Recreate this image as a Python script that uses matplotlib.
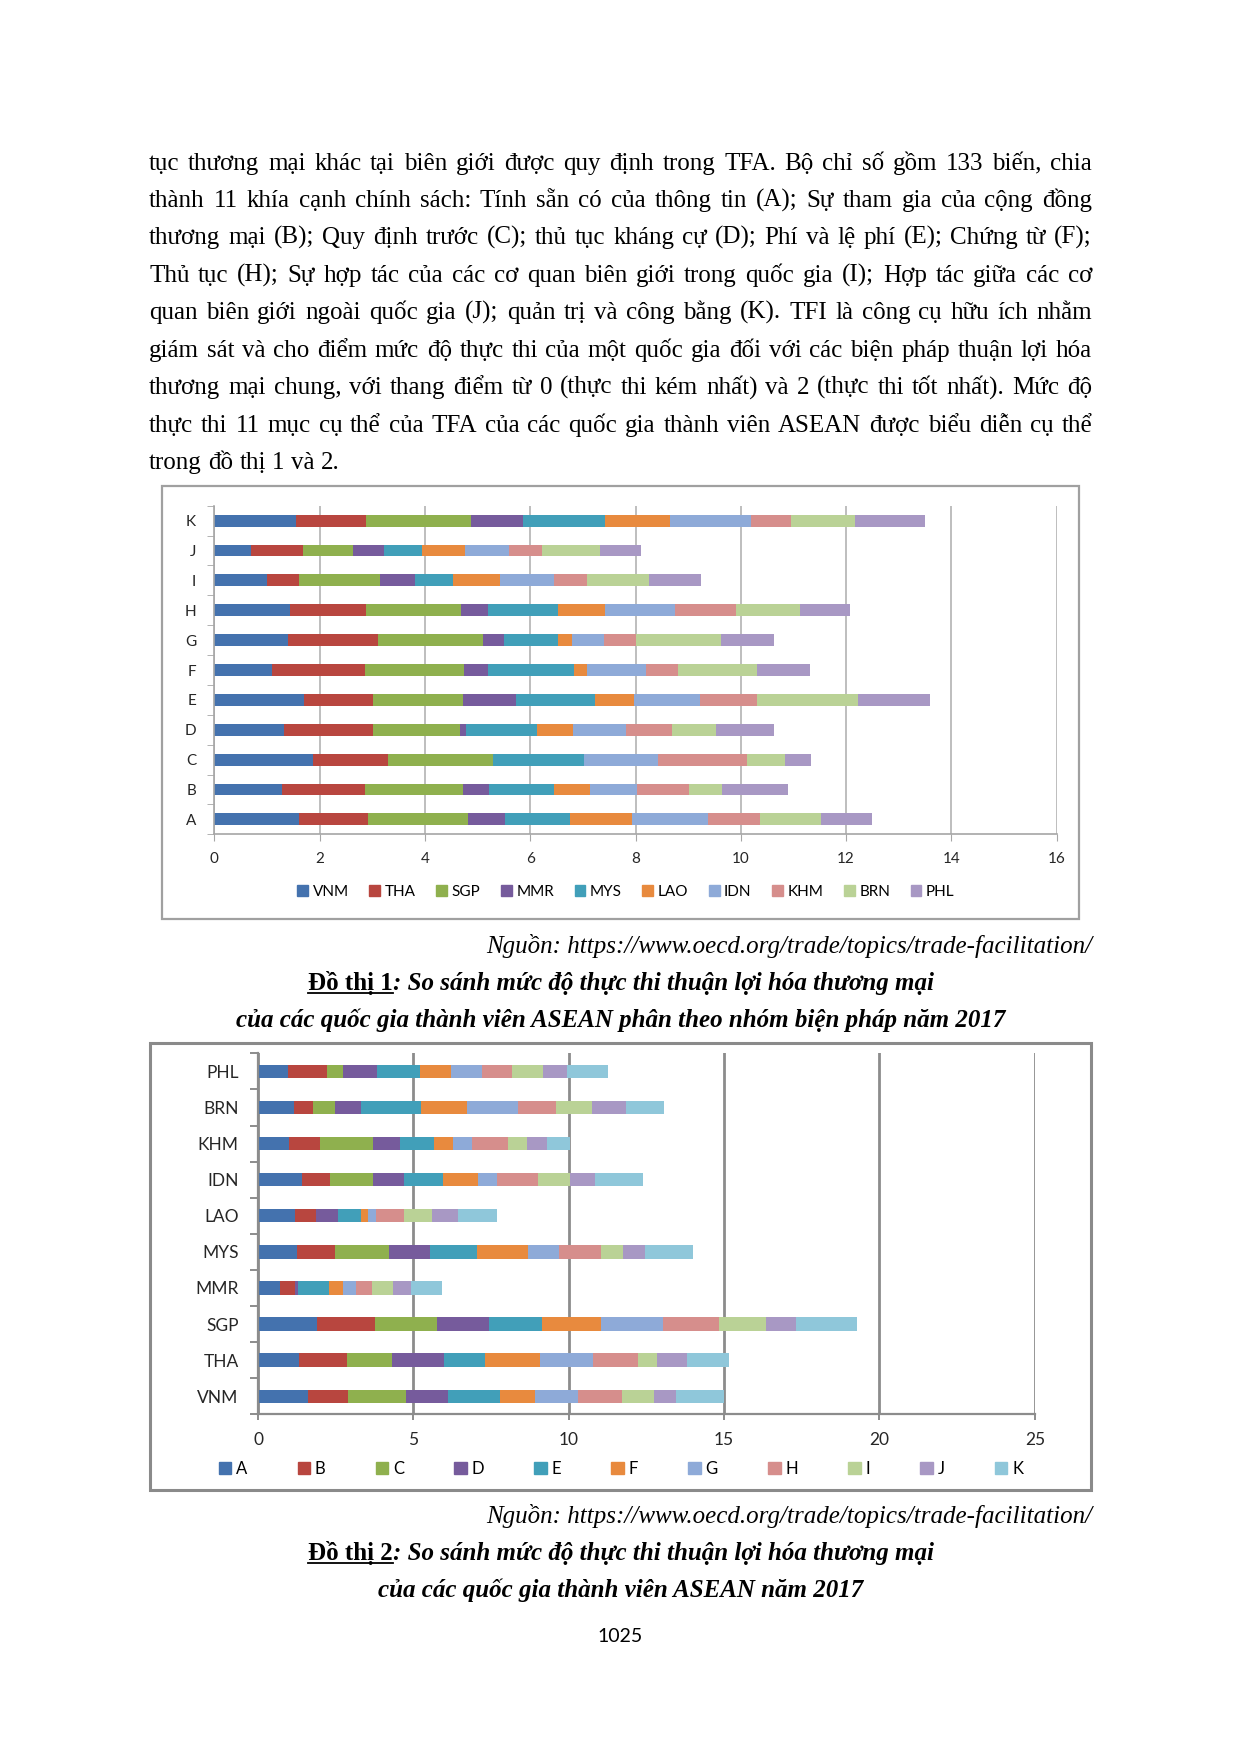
import matplotlib
matplotlib.use("Agg")
import matplotlib.pyplot as plt
from matplotlib.patches import Rectangle, Patch
from matplotlib.lines import Line2D

W, H = 1240, 1754
SERIF = "Liberation Serif"
SANS = "Lato"
BODY = 18

# TFI scores 2017, one list per country, measures A..K
measures = ["A", "B", "C", "D", "E", "F", "G", "H", "I", "J", "K"]
countries = ["VNM", "THA", "SGP", "MMR", "MYS", "LAO", "IDN", "KHM", "BRN", "PHL"]

vnm = [1.61, 1.29, 1.87, 1.33, 1.70, 1.10, 1.40, 1.43, 1.01, 0.70, 1.55]
tha = [1.31, 1.57, 1.43, 1.68, 1.31, 1.76, 1.71, 1.46, 0.60, 0.99, 1.33]
sgp = [1.90, 1.87, 2.00, 1.65, 1.72, 1.89, 2.00, 1.80, 1.53, 0.94, 1.99]
mmr = [0.70, 0.48, 0.00, 0.12, 1.00, 0.45, 0.40, 0.51, 0.67, 0.60, 1.00]
mys = [1.24, 1.25, 1.72, 1.34, 1.50, 1.63, 1.02, 1.33, 0.72, 0.71, 1.55]
lao = [1.18, 0.68, 0.00, 0.70, 0.75, 0.24, 0.26, 0.90, 0.90, 0.83, 1.24]
idn = [1.43, 0.88, 1.40, 1.00, 1.24, 1.12, 0.62, 1.32, 1.02, 0.82, 1.53]
khm = [1.00, 1.00, 1.70, 0.88, 1.08, 0.62, 0.60, 1.15, 0.62, 0.64, 0.76]
brn = [1.15, 0.62, 0.72, 0.83, 1.92, 1.50, 1.62, 1.22, 1.18, 1.09, 1.22]
phl = [0.98, 1.25, 0.50, 1.11, 1.37, 1.00, 1.00, 0.95, 1.00, 0.78, 1.33]
scores = [vnm, tha, sgp, mmr, mys, lao, idn, khm, brn, phl]

palette = ["#4472AE", "#B8463F", "#8FB04E", "#765B9C", "#419FB9", "#E88A3E",
           "#8EAAD8", "#D68E8C", "#BAD296", "#A898C4", "#8FC7DA"]

paragraph = [
    "tục thương mại khác tại biên giới được quy định trong TFA. Bộ chỉ số gồm 133 biến, chia",
    "thành 11 khía cạnh chính sách: Tính sẵn có của thông tin (A); Sự tham gia của cộng đồng",
    "thương mại (B); Quy định trước (C); thủ tục kháng cự (D); Phí và lệ phí (E); Chứng từ (F);",
    "Thủ tục (H); Sự hợp tác của các cơ quan biên giới trong quốc gia (I); Hợp tác giữa các cơ",
    "quan biên giới ngoài quốc gia (J); quản trị và công bằng (K). TFI là công cụ hữu ích nhằm",
    "giám sát và cho điểm mức độ thực thi của một quốc gia đối với các biện pháp thuận lợi hóa",
    "thương mại chung, với thang điểm từ 0 (thực thi kém nhất) và 2 (thực thi tốt nhất). Mức độ",
    "thực thi 11 mục cụ thể của TFA của các quốc gia thành viên ASEAN được biểu diễn cụ thể",
    "trong đồ thị 1 và 2.",
]
source = "Nguồn: https://www.oecd.org/trade/topics/trade-facilitation/"

fig = plt.figure(figsize=(12.4, 17.54), dpi=100)
renderer = fig.canvas.get_renderer()


def fx(px):
    return px / W


def fy(py):
    return 1 - py / H


def text_width(s, **kw):
    t = fig.text(0, 0, s, **kw)
    w = t.get_window_extent(renderer).width
    t.remove()
    return w


def justified(line, y, x0=149, x1=1092, size=BODY, last=False):
    words = line.split()
    widths = [text_width(w, fontsize=size, family=SERIF) for w in words]
    if last:
        gap = text_width("a b", fontsize=size, family=SERIF) - text_width("ab", fontsize=size, family=SERIF)
    else:
        gap = (x1 - x0 - sum(widths)) / (len(words) - 1)
    x = x0
    for w, wd in zip(words, widths):
        fig.text(fx(x), fy(y), w, fontsize=size, family=SERIF, va="baseline")
        x += wd + gap


def caption(parts, y, size=BODY, center=621):
    # parts: (text, weight, style, underline)
    widths = [text_width(p[0], fontsize=size, family=SERIF, weight=p[1], style=p[2]) for p in parts]
    x = center - sum(widths) / 2
    for (s, wt, st, ul), wd in zip(parts, widths):
        fig.text(fx(x), fy(y), s, fontsize=size, family=SERIF, weight=wt, style=st, va="baseline")
        if ul:
            fig.add_artist(Line2D([fx(x), fx(x + wd)], [fy(y + 3), fy(y + 3)],
                                  transform=fig.transFigure, color="black", lw=1.3))
        x += wd


# body text
line_y = [170, 207, 244, 282, 319, 357, 394, 432, 469]
for i, (line, y) in enumerate(zip(paragraph, line_y)):
    justified(line, y, last=(i == len(paragraph) - 1))

# ---- chart 1: by measure ----
fig.add_artist(Rectangle((fx(162), fy(919)), (1079 - 162) / W, (919 - 486) / H,
                         transform=fig.transFigure, fill=False, ec="#A0A0A0", lw=1.6))
ax1 = fig.add_axes([fx(214.3), fy(834.3), (1056.7 - 214.3) / W, (834.3 - 505.7) / H])
left = [0.0] * len(measures)
for name, vals, col in zip(countries, scores, palette):
    ax1.barh(range(len(measures)), vals, left=left, height=0.4, color=col, label=name)
    left = [a + b for a, b in zip(left, vals)]

ax1.set_xlim(0, 16)
ax1.set_ylim(-0.5, len(measures) - 0.5)
ax1.set_xticks(range(0, 17, 2))
ax1.set_yticks(range(len(measures)))
ax1.set_yticklabels(measures)
ax1.set_yticks([i - 0.5 for i in range(len(measures) + 1)], minor=True)
ax1.grid(axis="x", color="#BEBEBE", lw=1.4)
ax1.set_axisbelow(True)
for s in ["top", "right"]:
    ax1.spines[s].set_visible(False)
for s in ["left", "bottom"]:
    ax1.spines[s].set_color("#A6A6A6")
    ax1.spines[s].set_linewidth(1.2)
ax1.tick_params(axis="y", which="major", length=0, pad=13, labelsize=11, labelcolor="#262626")
ax1.tick_params(axis="y", which="minor", length=5, color="#A6A6A6")
ax1.tick_params(axis="x", length=5, color="#A6A6A6", pad=8, labelsize=11, labelcolor="#262626")
for lb in ax1.get_xticklabels() + ax1.get_yticklabels():
    lb.set_family(SANS)

h1 = [Patch(color=c) for c in palette[:len(countries)]]
fig.legend(h1, countries, ncol=len(countries), loc="center", bbox_to_anchor=(fx(626), fy(892)),
           frameon=False, handlelength=0.7, handleheight=0.7, handletextpad=0.3,
           columnspacing=1.35, prop={"family": SANS, "size": 11})

fig.text(fx(1092), fy(953), source, fontsize=BODY, family=SERIF, style="italic", ha="right", va="baseline")
caption([("Đồ thị 1", "bold", "normal", True),
         (": So sánh mức độ thực thi thuận lợi hóa thương mại", "bold", "italic", False)], 990)
caption([("của các quốc gia thành viên ASEAN phân theo nhóm biện pháp năm 2017", "bold", "italic", False)], 1027)

# ---- chart 2: by country ----
fig.add_artist(Rectangle((fx(150), fy(1490)), (1091 - 150) / W, (1490 - 1043) / H,
                         transform=fig.transFigure, fill=False, ec="#8A8A8A", lw=2.2))
ax2 = fig.add_axes([fx(258), fy(1414.3), (1034.8 - 258) / W, (1414.3 - 1053.3) / H])
left = [0.0] * len(countries)
for j, (m, col) in enumerate(zip(measures, palette)):
    vals = [s[j] for s in scores]
    ax2.barh(range(len(countries)), vals, left=left, height=0.37, color=col, label=m)
    left = [a + b for a, b in zip(left, vals)]

ax2.set_xlim(0, 25)
ax2.set_ylim(-0.5, len(countries) - 0.5)
ax2.set_xticks(range(0, 26, 5))
ax2.set_yticks(range(len(countries)))
ax2.set_yticklabels(countries)
ax2.set_yticks([i - 0.5 for i in range(len(countries) + 1)], minor=True)
ax2.grid(axis="x", color="#8C8C8C", lw=2)
ax2.set_axisbelow(True)
for s in ["top", "right"]:
    ax2.spines[s].set_visible(False)
for s in ["left", "bottom"]:
    ax2.spines[s].set_color("#8C8C8C")
    ax2.spines[s].set_linewidth(1.6)
ax2.tick_params(axis="y", which="major", length=0, pad=14, labelsize=12.5, labelcolor="#262626")
ax2.tick_params(axis="y", which="minor", length=6, width=1.4, color="#8C8C8C")
ax2.tick_params(axis="x", length=4, width=1.4, color="#8C8C8C", pad=9, labelsize=12.5, labelcolor="#262626")
for lb in ax2.get_xticklabels() + ax2.get_yticklabels():
    lb.set_family(SANS)

h2 = [Patch(color=c) for c in palette]
fig.legend(h2, measures, ncol=len(measures), loc="center", bbox_to_anchor=(fx(621), fy(1469)),
           frameon=False, handlelength=0.75, handleheight=0.75, handletextpad=0.3,
           columnspacing=3.0, prop={"family": SANS, "size": 12})

fig.text(fx(1092), fy(1523), source, fontsize=BODY, family=SERIF, style="italic", ha="right", va="baseline")
caption([("Đồ thị 2", "bold", "normal", True),
         (": So sánh mức độ thực thi thuận lợi hóa thương mại", "bold", "italic", False)], 1560)
caption([("của các quốc gia thành viên ASEAN năm 2017", "bold", "italic", False)], 1597)

fig.text(fx(620), fy(1637), "1025", fontsize=14, family=SANS, ha="center", va="center")

fig.savefig("out.png", dpi=100, facecolor="white")
